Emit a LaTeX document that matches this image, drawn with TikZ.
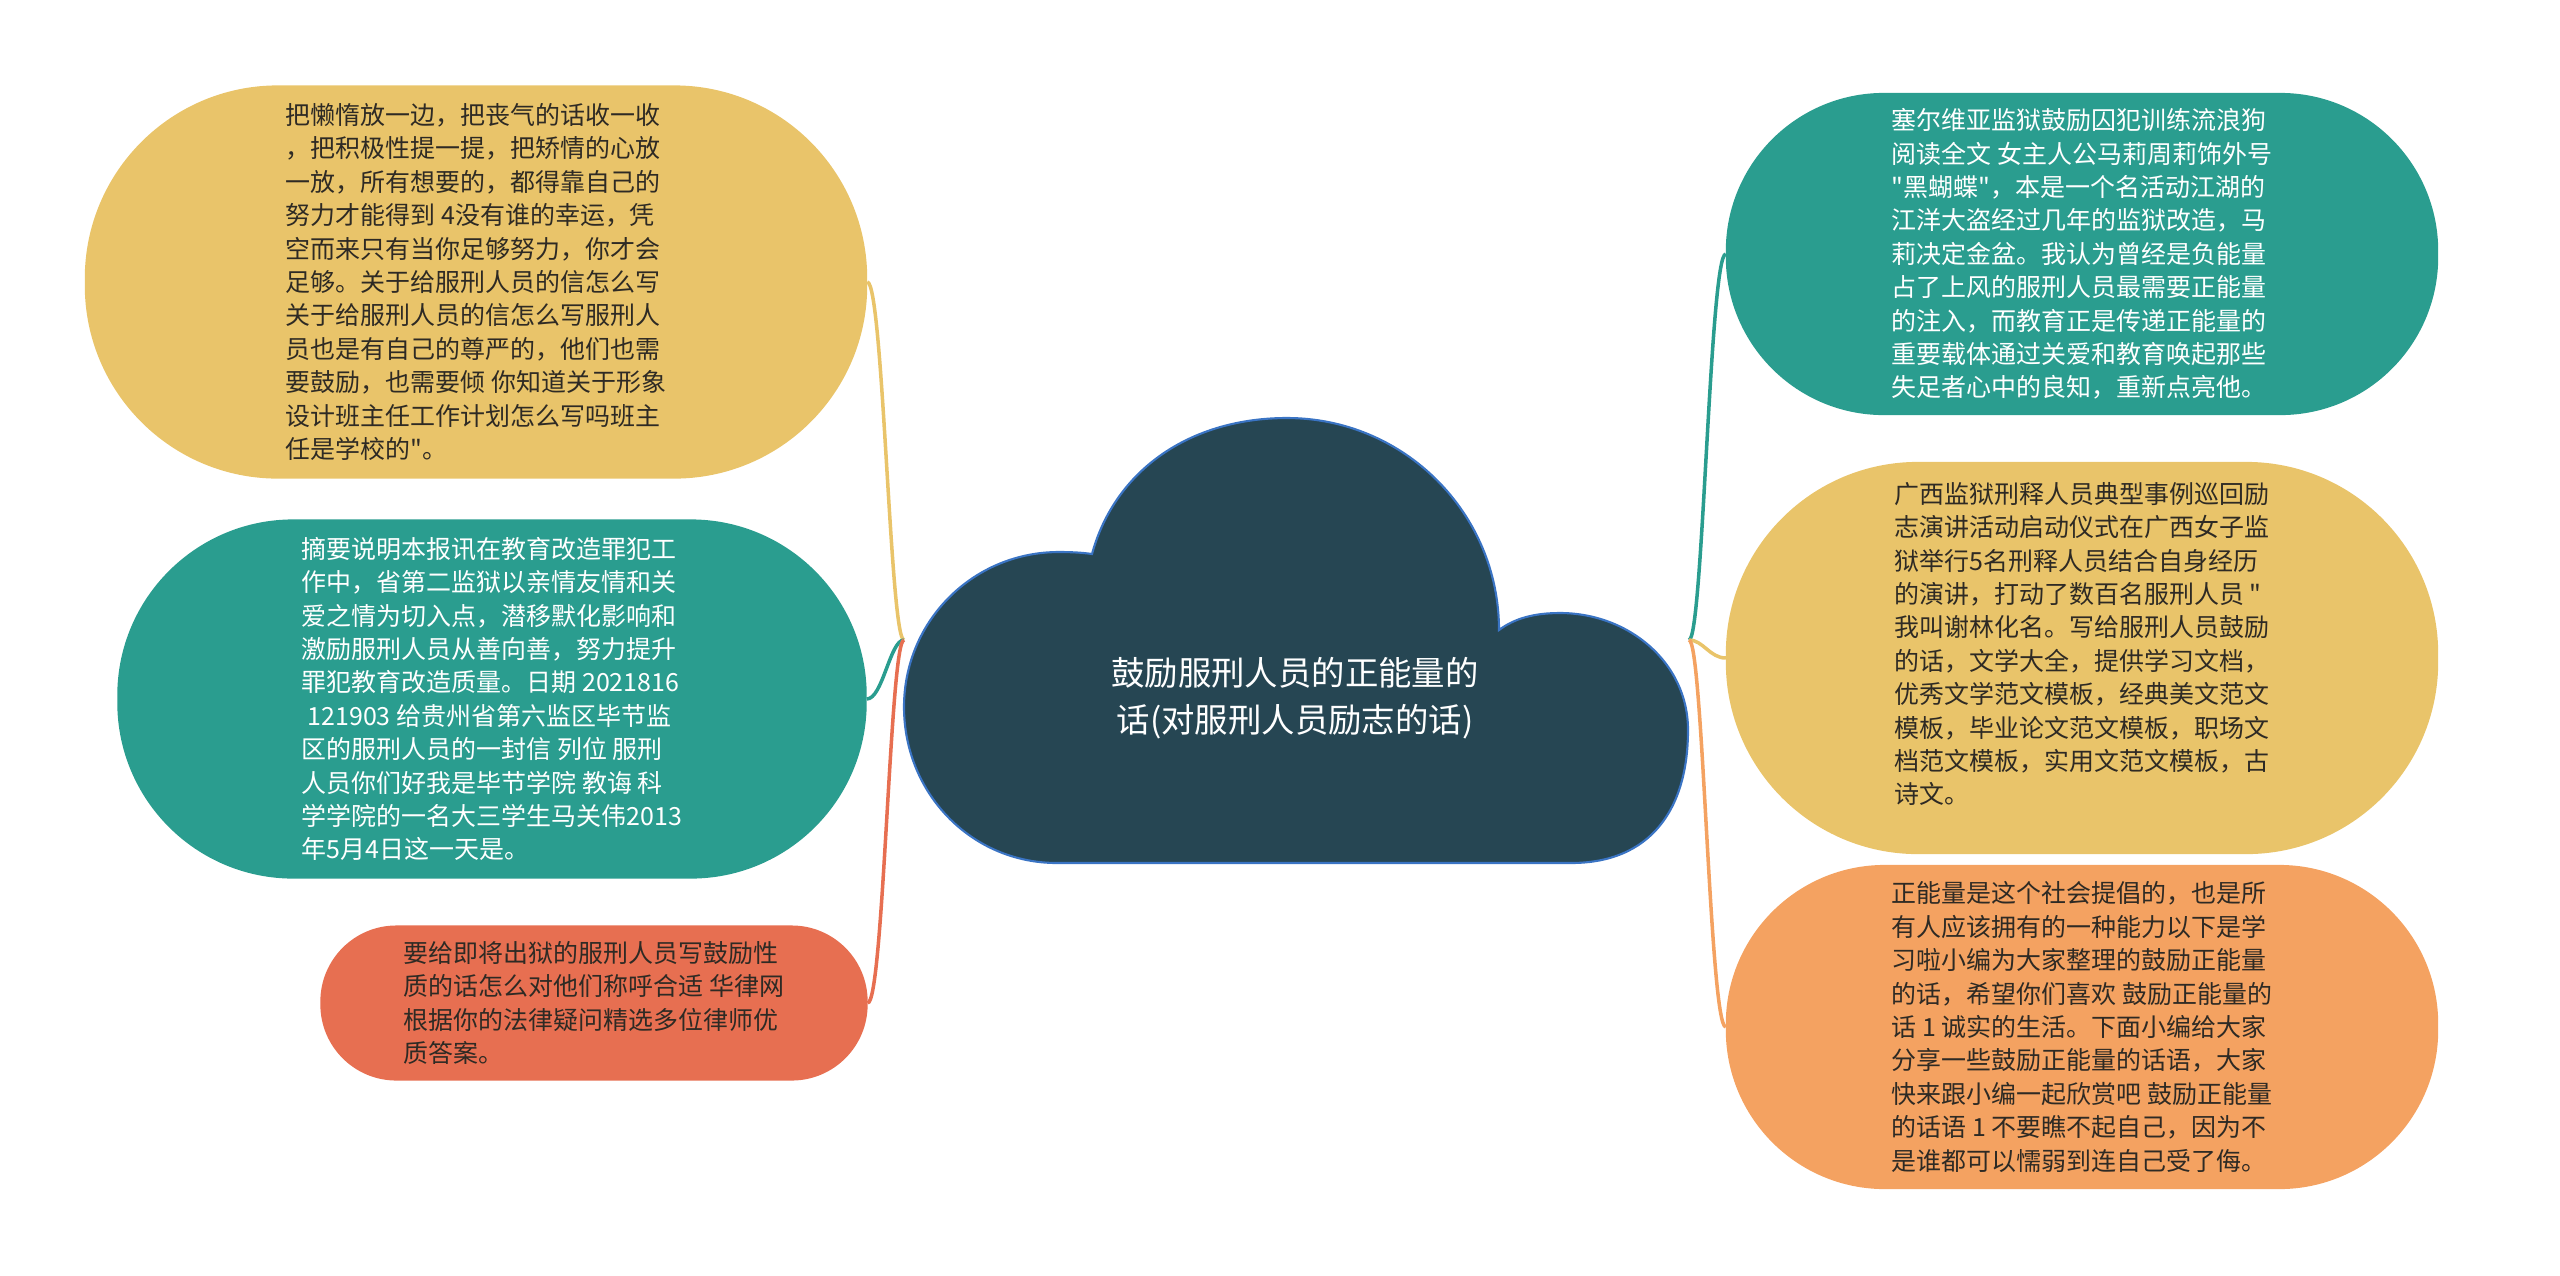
\documentclass[tikz,border=0pt]{standalone}
\usepackage{fontspec}
\usepackage{tikz}
\newfontfamily\cjk{Noto Sans CJK SC}
\definecolor{slate}{HTML}{264653}
\definecolor{sea}{HTML}{2A9D8F}
\definecolor{sand}{HTML}{E9C46A}
\definecolor{peach}{HTML}{F4A261}
\definecolor{coral}{HTML}{E76F51}
\definecolor{rim}{HTML}{3A74C4}
\definecolor{ink}{HTML}{2E2A24}
\begin{document}
\begin{tikzpicture}[x=0.01cm,y=-0.01cm,
  leaf/.style={rectangle,inner sep=0pt,outer sep=0pt,align=left,font={\cjk\fontsize{7.1}{9.5}\selectfont}},
  wire/.style={line width=1pt}]
\useasboundingbox (0,0) rectangle (2560,1275);
\draw[fill=slate,draw=rim,line width=0.6pt] (1092,554) .. controls (1115,470) and (1190,418) .. (1287,418) .. controls (1404,418) and (1499,513) .. (1499,630) .. controls (1515,618) and (1535,613) .. (1560,613) .. controls (1628,613) and (1688,662) .. (1688,730) .. controls (1688,810) and (1650,863) .. (1571,863) -- (1057,863) .. controls (971,863) and (904,793) .. (904,707) .. controls (904,621) and (973,552) .. (1059,552) .. controls (1075,552) and (1085,553) .. cycle;
\node[font={\cjk\fontsize{9.5}{13.3}\selectfont},text=white,align=center] (root) at (1295,698) {鼓励服刑人员的正能量的\\话(对服刑人员励志的话)};
\node[leaf,fill=sand,text=ink,minimum width=7.82cm,minimum height=3.93cm,rounded corners=1.93cm] (nA) at (476,282) {把懒惰放一边，把丧气的话收一收\\，把积极性提一提，把矫情的心放\\一放，所有想要的，都得靠自己的\\努力才能得到 4没有谁的幸运，凭\\空而来只有当你足够努力，你才会\\足够。关于给服刑人员的信怎么写\\关于给服刑人员的信怎么写服刑人\\员也是有自己的尊严的，他们也需\\要鼓励，也需要倾 你知道关于形象\\设计班主任工作计划怎么写吗班主\\任是学校的"。};
\node[leaf,fill=sea,text=white,minimum width=7.49cm,minimum height=3.59cm,rounded corners=1.76cm] (nB) at (492,699) {摘要说明本报讯在教育改造罪犯工\\作中，省第二监狱以亲情友情和关\\爱之情为切入点，潜移默化影响和\\激励服刑人员从善向善，努力提升\\罪犯教育改造质量。日期 2021816\\~121903 给贵州省第六监区毕节监\\区的服刑人员的一封信 列位 服刑\\人员你们好我是毕节学院 教诲 科\\学学院的一名大三学生马关伟2013\\年5月4日这一天是。};
\node[leaf,fill=coral,text=ink,minimum width=5.47cm,minimum height=1.55cm,rounded corners=0.76cm] (nC) at (594,1003) {要给即将出狱的服刑人员写鼓励性\\质的话怎么对他们称呼合适 华律网\\根据你的法律疑问精选多位律师优\\质答案。};
\node[leaf,fill=sea,text=white,minimum width=7.12cm,minimum height=3.22cm,rounded corners=1.58cm] (nD) at (2082,254) {塞尔维亚监狱鼓励囚犯训练流浪狗\\阅读全文 女主人公马莉周莉饰外号\\"黑蝴蝶"，本是一个名活动江湖的\\江洋大盗经过几年的监狱改造，马\\莉决定金盆。我认为曾经是负能量\\占了上风的服刑人员最需要正能量\\的注入，而教育正是传递正能量的\\重要载体通过关爱和教育唤起那些\\失足者心中的良知，重新点亮他。};
\node[leaf,fill=sand,text=ink,minimum width=7.12cm,minimum height=3.92cm,rounded corners=1.92cm] (nE) at (2082,658) {广西监狱刑释人员典型事例巡回励\\志演讲活动启动仪式在广西女子监\\狱举行5名刑释人员结合自身经历\\的演讲，打动了数百名服刑人员 "\\我叫谢林化名。写给服刑人员鼓励\\的话，文学大全，提供学习文档，\\优秀文学范文模板，经典美文范文\\模板，毕业论文范文模板，职场文\\档范文模板，实用文范文模板，古\\诗文。\\[-1pt]\mbox{}};
\node[leaf,fill=peach,text=ink,minimum width=7.12cm,minimum height=3.24cm,rounded corners=1.59cm] (nF) at (2082,1027) {正能量是这个社会提倡的，也是所\\有人应该拥有的一种能力以下是学\\习啦小编为大家整理的鼓励正能量\\的话，希望你们喜欢 鼓励正能量的\\话 1 诚实的生活。下面小编给大家\\分享一些鼓励正能量的话语，大家\\快来跟小编一起欣赏吧 鼓励正能量\\的话语 1 不要瞧不起自己，因为不\\是谁都可以懦弱到连自己受了侮。};
\coordinate (cl) at (904,640); \coordinate (cr) at (1689,640);
\draw[wire,sand] (cl) .. controls +(-14,0) and +(16,0) .. (nA.east);
\draw[wire,sea] (cl) .. controls +(-14,0) and +(16,0) .. (nB.east);
\draw[wire,coral] (cl) .. controls +(-14,0) and +(16,0) .. (nC.east);
\draw[wire,sea] (cr) .. controls +(14,0) and +(-16,0) .. (nD.west);
\draw[wire,sand] (cr) .. controls +(14,0) and +(-16,0) .. (nE.west);
\draw[wire,peach] (cr) .. controls +(14,0) and +(-16,0) .. (nF.west);
\end{tikzpicture}
\end{document}
